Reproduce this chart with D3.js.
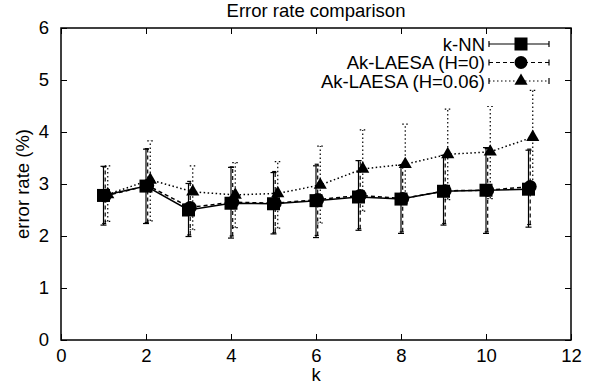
<!DOCTYPE html>
<html>
<head>
<meta charset="utf-8">
<script src="https://cdn.jsdelivr.net/npm/d3@7"></script>
<style>
  body { margin: 0; background: #fff; }
  text { font-family: "Liberation Sans", Arial, sans-serif; fill: #000; }
</style>
</head>
<body>
<div id="chart"></div>
<script>
// values
var ks = [1, 2, 3, 4, 5, 6, 7, 8, 9, 10, 11];

var knn   = [2.78, 2.96, 2.50, 2.63, 2.62, 2.68, 2.75, 2.71, 2.86, 2.88, 2.90];
var knnLo = [2.21, 2.24, 1.99, 1.96, 2.04, 1.97, 2.11, 2.05, 2.21, 2.05, 2.17];
var knnHi = [3.34, 3.67, 3.01, 3.32, 3.22, 3.35, 3.45, 3.36, 3.55, 3.70, 3.65];

var h0   = [2.77, 2.97, 2.55, 2.65, 2.63, 2.70, 2.78, 2.72, 2.87, 2.88, 2.95];
var h0Lo = [2.24, 2.26, 2.02, 2.00, 2.06, 2.01, 2.14, 2.08, 2.24, 2.08, 2.22];
var h0Hi = [3.33, 3.68, 3.05, 3.33, 3.24, 3.38, 3.45, 3.37, 3.55, 3.68, 3.67];

var h6   = [2.80, 3.08, 2.85, 2.79, 2.82, 2.98, 3.29, 3.38, 3.57, 3.62, 3.90];
var h6Lo = [2.28, 2.29, 2.12, 2.16, 2.15, 2.25, 2.48, 2.62, 2.70, 2.72, 3.00];
var h6Hi = [3.35, 3.83, 3.35, 3.41, 3.43, 3.73, 4.04, 4.15, 4.44, 4.49, 4.80];

var xTicks = [0, 2, 4, 6, 8, 10, 12];
var yTicks = [0, 1, 2, 3, 4, 5, 6];

var series = [
  {name: "k-NN", y: knn, lo: knnLo, hi: knnHi, dx: 0, dash: null, marker: "square"},
  {name: "Ak-LAESA (H=0)", y: h0, lo: h0Lo, hi: h0Hi, dx: 0.04, dash: "4,3", marker: "circle"},
  {name: "Ak-LAESA (H=0.06)", y: h6, lo: h6Lo, hi: h6Hi, dx: 0.1, dash: "1.5,2.5", marker: "triangle"}
];

var W = 594, H = 384;
var margin = {top: 28, right: 23, bottom: 44, left: 61},
    width = W - margin.left - margin.right,
    height = H - margin.top - margin.bottom;

var svg = d3.select("#chart").append("svg")
    .attr("width", W).attr("height", H);

var g = svg.append("g")
    .attr("transform", "translate(" + margin.left + "," + margin.top + ")");

var x = d3.scaleLinear().domain([0, 12]).range([0, width]);
var y = d3.scaleLinear().domain([0, 6]).range([height, 0]);

// axes, ticks pointing inward, mirrored
g.append("g")
  .attr("transform", "translate(0," + height + ")")
  .call(d3.axisBottom(x).tickValues(xTicks).tickFormat(d3.format("d")).tickSizeInner(-6).tickSizeOuter(0).tickPadding(9))
  .call(function(a) { a.select(".domain").remove(); a.selectAll("text").style("font-size", "18.5px"); });

g.append("g")
  .call(d3.axisTop(x).tickValues(xTicks).tickSizeInner(-6).tickSizeOuter(0).tickFormat(""))
  .call(function(a) { a.select(".domain").remove(); });

g.append("g")
  .call(d3.axisLeft(y).tickValues(yTicks).tickFormat(d3.format("d")).tickSizeInner(-6).tickSizeOuter(0).tickPadding(12))
  .call(function(a) { a.select(".domain").remove(); a.selectAll("text").style("font-size", "18.5px"); });

g.append("g")
  .attr("transform", "translate(" + width + ",0)")
  .call(d3.axisRight(y).tickValues(yTicks).tickSizeInner(-6).tickSizeOuter(0).tickFormat(""))
  .call(function(a) { a.select(".domain").remove(); });

g.selectAll(".tick line").attr("stroke", "#000").attr("stroke-width", 1);

g.append("rect")
  .attr("width", width).attr("height", height)
  .attr("fill", "none").attr("stroke", "#000").attr("stroke-width", 1.5);

// labels
svg.append("text")
  .attr("x", margin.left + width / 2).attr("y", 17)
  .attr("text-anchor", "middle").style("font-size", "18.5px")
  .text("Error rate comparison");

svg.append("text")
  .attr("x", margin.left + width / 2).attr("y", 381)
  .attr("text-anchor", "middle").style("font-size", "18.5px")
  .text("k");

svg.append("text")
  .attr("transform", "translate(29," + (margin.top + height / 2) + ") rotate(-90)")
  .attr("text-anchor", "middle").style("font-size", "18.5px")
  .text("error rate (%)");

function drawMarker(sel, type) {
  if (type == "square") {
    sel.append("rect").attr("x", -6.5).attr("y", -6.5).attr("width", 13).attr("height", 13).attr("fill", "#000");
  } else if (type == "circle") {
    sel.append("circle").attr("r", 6.5).attr("fill", "#000");
  } else {
    sel.append("path").attr("d", d3.symbol().type(d3.symbolTriangle).size(75)()).attr("fill", "#000");
  }
}

var line = d3.line();

series.forEach(function(s) {
  var sg = g.append("g");
  var px = ks.map(function(k) { return x(k + s.dx); });

  // error bars
  ks.forEach(function(k, i) {
    var bx = px[i];
    var eb = sg.append("g")
      .attr("stroke", "#000").attr("stroke-width", 1.2)
      .attr("stroke-dasharray", s.dash);
    eb.append("line").attr("x1", bx).attr("x2", bx).attr("y1", y(s.lo[i])).attr("y2", y(s.hi[i]));
    eb.append("line").attr("x1", bx - 3).attr("x2", bx + 3).attr("y1", y(s.lo[i])).attr("y2", y(s.lo[i])).attr("stroke-dasharray", null);
    eb.append("line").attr("x1", bx - 3).attr("x2", bx + 3).attr("y1", y(s.hi[i])).attr("y2", y(s.hi[i])).attr("stroke-dasharray", null);
  });

  sg.append("path")
    .attr("d", line(ks.map(function(k, i) { return [px[i], y(s.y[i])]; })))
    .attr("fill", "none").attr("stroke", "#000").attr("stroke-width", 1.5)
    .attr("stroke-dasharray", s.dash);

  ks.forEach(function(k, i) {
    var m = sg.append("g").attr("transform", "translate(" + px[i] + "," + y(s.y[i]) + ")");
    drawMarker(m, s.marker);
  });
});

// legend
var legend = svg.append("g");
series.forEach(function(s, i) {
  var ly = 44 + i * 18.5;
  var row = legend.append("g").attr("transform", "translate(0," + ly + ")");
  row.append("text").attr("x", 485).attr("y", 6.5)
    .attr("text-anchor", "end").style("font-size", "18.5px").text(s.name);
  var lg = row.append("g").attr("stroke", "#000").attr("stroke-width", 1.2);
  lg.append("line").attr("x1", 489).attr("x2", 549).attr("y1", 0).attr("y2", 0)
    .attr("stroke-dasharray", s.dash);
  lg.append("line").attr("x1", 489).attr("x2", 489).attr("y1", -3).attr("y2", 3);
  lg.append("line").attr("x1", 549).attr("x2", 549).attr("y1", -3).attr("y2", 3);
  var m = row.append("g").attr("transform", "translate(521,0)");
  drawMarker(m, s.marker);
});
</script>
</body>
</html>
